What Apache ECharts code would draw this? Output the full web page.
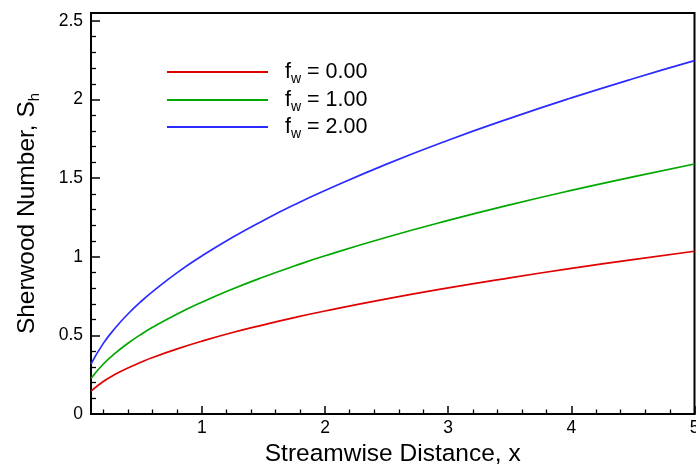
<!DOCTYPE html>
<html>
<head>
<meta charset="utf-8">
<script src="https://cdn.jsdelivr.net/npm/echarts@6/dist/echarts.min.js"></script>
<style>html,body{margin:0;padding:0;background:#fff;}#c{width:696px;height:466px;}</style>
</head>
<body>
<div id="c"></div>
<script>
// Streamwise distance samples
const xValues = [0.1, 0.2, 0.3, 0.4, 0.5, 0.6, 0.8, 1, 1.25, 1.5, 1.75, 2, 2.5, 3, 3.5, 4, 4.5, 5];
// Sherwood number for each f_w
const shFw0 = [0.146, 0.207, 0.254, 0.293, 0.327, 0.359, 0.414, 0.463, 0.518, 0.567, 0.613, 0.655, 0.732, 0.802, 0.866, 0.926, 0.982, 1.035];
const shFw1 = [0.225, 0.318, 0.389, 0.450, 0.503, 0.551, 0.636, 0.711, 0.795, 0.871, 0.941, 1.006, 1.124, 1.231, 1.330, 1.422, 1.508, 1.590];
const shFw2 = [0.318, 0.449, 0.550, 0.636, 0.711, 0.778, 0.899, 1.005, 1.124, 1.231, 1.330, 1.421, 1.589, 1.741, 1.880, 2.010, 2.132, 2.247];
const seriesNames = ['0.00', '1.00', '2.00'];
const xMajorTicks = [1, 2, 3, 4, 5];
const xMinorTicks = [0.2, 0.4, 0.6, 0.8, 1.2, 1.4, 1.6, 1.8, 2.2, 2.4, 2.6, 2.8, 3.2, 3.4, 3.6, 3.8, 4.2, 4.4, 4.6, 4.8];
const yMajorTicks = [0, 0.5, 1, 1.5, 2, 2.5];
const yMinorTicks = [0.1, 0.2, 0.3, 0.4, 0.6, 0.7, 0.8, 0.9, 1.1, 1.2, 1.3, 1.4, 1.6, 1.7, 1.8, 1.9, 2.1, 2.2, 2.3, 2.4];

const colors = ['#e00000', '#00a800', '#2b2bff'];
const seriesData = [shFw0, shFw1, shFw2];
const FONT = 'Liberation Sans, Arial, sans-serif';

const chart = echarts.init(document.getElementById('c'), null, {renderer: 'canvas'});

const legendRich = {
  sp: {width: 12},
  a: {fontSize: 21.5, fontFamily: FONT, color: '#000'},
  b: {fontSize: 14, fontFamily: FONT, color: '#000', padding: [14, 0, 0, 0]}
};
const legendTops = [61, 89, 116];

const option = {
  animation: false,
  backgroundColor: '#fff',
  grid: {left: 91, right: 1.5, top: 13, bottom: 52, outerBoundsMode: 'none', containLabel: false,
         show: true, borderColor: '#000', borderWidth: 2, backgroundColor: 'transparent'},
  xAxis: [
    {
      type: 'value', min: 0.1, max: 5,
      name: 'Streamwise Distance, x', nameLocation: 'middle', nameGap: 25,
      nameTextStyle: {fontSize: 24.5, fontFamily: FONT, color: '#000'},
      axisLine: {show: true, lineStyle: {color: '#000', width: 2}},
      axisTick: {show: true, inside: true, length: 8, customValues: xMajorTicks, lineStyle: {color: '#000', width: 1.5}},
      axisLabel: {show: true, customValues: xMajorTicks, margin: 5, fontSize: 17.5, fontFamily: FONT, color: '#000'},
      splitLine: {show: false}
    },
    {
      type: 'value', min: 0.1, max: 5, position: 'bottom',
      axisLine: {show: false},
      axisTick: {show: true, inside: true, length: 4.5, customValues: xMinorTicks, lineStyle: {color: '#000', width: 1.3}},
      axisLabel: {show: false},
      splitLine: {show: false}
    }
  ],
  yAxis: [
    {
      type: 'value', min: 0, max: 2.55,
      name: '{a|Sherwood Number, S}{b|h}', nameLocation: 'middle', nameGap: 49, nameRotate: 90,
      nameTextStyle: {
        fontSize: 24.5, fontFamily: FONT, color: '#000',
        rich: {
          a: {fontSize: 24.5, fontFamily: FONT, color: '#000'},
          b: {fontSize: 15, fontFamily: FONT, color: '#000', padding: [15, 0, 0, 0]}
        }
      },
      axisLine: {show: true, lineStyle: {color: '#000', width: 2}},
      axisTick: {show: true, inside: true, length: 9, customValues: yMajorTicks, lineStyle: {color: '#000', width: 1.5}},
      axisLabel: {show: true, customValues: yMajorTicks, margin: 8, fontSize: 17.5, fontFamily: FONT, color: '#000'},
      splitLine: {show: false}
    },
    {
      type: 'value', min: 0, max: 2.55, position: 'left',
      axisLine: {show: false},
      axisTick: {show: true, inside: true, length: 5, customValues: yMinorTicks, lineStyle: {color: '#000', width: 1.3}},
      axisLabel: {show: false},
      splitLine: {show: false}
    }
  ],
  legend: seriesNames.map((n, i) => ({
    left: 167, top: legendTops[i], orient: 'vertical', padding: 0,
    data: ['fw' + i],
    icon: 'rect', itemWidth: 101, itemHeight: 2,
    formatter: () => '{sp|}{a|f}{b|w}{a| = ' + n + '}',
    textStyle: {rich: legendRich, fontFamily: FONT},
    selectedMode: false
  })),
  series: seriesData.map((arr, i) => ({
    name: 'fw' + i,
    type: 'line',
    xAxisIndex: 0, yAxisIndex: 0,
    smooth: true,
    symbol: 'none',
    color: colors[i],
    lineStyle: {width: 1.7, color: colors[i]},
    data: xValues.map((x, j) => [x, arr[j]])
  }))
};
chart.setOption(option);
</script>
</body>
</html>
